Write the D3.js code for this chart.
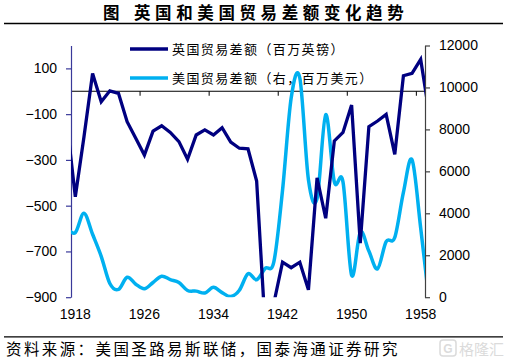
<!DOCTYPE html>
<html>
<head>
<meta charset="utf-8">
<script src="https://cdn.jsdelivr.net/npm/d3@7"></script>
<style>
  html, body { margin: 0; padding: 0; background: #fff; }
  svg { display: block; }
</style>
</head>
<body>
<script>
// ---- data ----
const years = d3.range(1917, 1960); // 1917..1959 (edge years are clipped by the plot area)
const ukBalance = [ // 英国贸易差额（百万英镑）
  -130, -461, -200, 78, -46, 2, -9, -133, -205, -279,
  -174, -151, -180, -220, -297, -191, -169, -191, -159, -222,
  -249, -252, -392, -1040, -925, -747, -771, -747, -868, -378,
  -555, -217, -180, -60, -664, -155, -130, -101, -276, 68,
  78, 139, -100
];
const usBalance = [ // 美国贸易差额（右，百万美元）
  3300, 3080, 4000, 3000, 1950, 650, 370, 950, 620, 400,
  700, 1000, 840, 700, 320, 290, 200, 470, 220, 30,
  330, 1120, 830, 1380, 1700, 5100, 9500, 10450, 5600, 4700,
  8700, 5500, 5500, 1050, 3100, 2200, 1350, 2650, 2850, 5000,
  6550, 3300, -300
];
const xTickLabels = [1918, 1926, 1934, 1942, 1950, 1958];
const leftTicks = [-900, -700, -500, -300, -100, 100];
const rightTicks = [0, 2000, 4000, 6000, 8000, 10000, 12000];
const seriesNames = ["英国贸易差额（百万英镑）", "美国贸易差额（右，百万美元）"];
const titleText = ["图", "英国和美国贸易差额变化趋势"];
const sourceText = "资料来源：美国圣路易斯联储，国泰海通证券研究";

// ---- layout ----
const W = 513, H = 363;
const L = 71, R = 425, T = 45.5, B = 297.2;
const navy = "#000080", sky = "#00B0F0";
const latin = "'Liberation Sans', Arial, sans-serif";
const cjk = "'Noto Sans CJK SC', sans-serif";

const svg = d3.select("body").append("svg").attr("width", W).attr("height", H);

// scales
const x = d3.scaleLinear().domain([1917.5, 1958.5]).range([L, R]);
const yL = d3.scaleLinear().domain([-900, 200]).range([B, T]);
const yR = d3.scaleLinear().domain([0, 12000]).range([B, T]);

// title
svg.append("text").attr("x", 103).attr("y", 19.3)
  .attr("font-family", cjk).attr("font-size", 16.5).attr("font-weight", "bold")
  .text(titleText[0]);
svg.append("text").attr("x", 134).attr("y", 19.3)
  .attr("font-family", cjk).attr("font-size", 16.5).attr("font-weight", "bold")
  .attr("letter-spacing", 4.6).text(titleText[1]);
svg.append("line").attr("x1", 4).attr("x2", 503).attr("y1", 23.5).attr("y2", 23.5)
  .attr("stroke", "#000").attr("stroke-width", 1.3);

// legend
const legY = [49, 78];
const legColor = [navy, sky];
seriesNames.forEach((n, i) => {
  svg.append("line").attr("x1", 130).attr("x2", 168).attr("y1", legY[i]).attr("y2", legY[i])
    .attr("stroke", legColor[i]).attr("stroke-width", 3.3);
  svg.append("text").attr("x", 172).attr("y", legY[i]).attr("dy", "0.36em")
    .attr("font-family", cjk).attr("font-size", 13).attr("letter-spacing", 1.4)
    .attr("fill", "#000").text(n);
});

// zero line (category axis) with ticks between categories
svg.append("line").attr("x1", L).attr("x2", R).attr("y1", yL(0)).attr("y2", yL(0))
  .attr("stroke", "#000").attr("stroke-width", 1);
const boundaryTicks = xTickLabels.slice(1).map(v => v - 0.5);
svg.append("g").selectAll("line").data(boundaryTicks).join("line")
  .attr("x1", d => x(d)).attr("x2", d => x(d))
  .attr("y1", yL(0)).attr("y2", yL(0) + 4.5)
  .attr("stroke", "#000").attr("stroke-width", 1);

// x labels at the bottom
svg.append("g").selectAll("text").data(xTickLabels).join("text")
  .attr("x", d => x(d)).attr("y", 314.5).attr("dy", "0.35em")
  .attr("text-anchor", "middle").attr("font-family", latin).attr("font-size", 14)
  .attr("fill", "#000").text(d => d);

// left axis
const gL = svg.append("g").attr("transform", `translate(${L},0)`)
  .call(d3.axisLeft(yL).tickValues(leftTicks).tickSize(5).tickSizeOuter(0).tickPadding(9).tickFormat(d3.format("d")));
gL.select(".domain").attr("stroke", "#3a3a9a").attr("stroke-width", 1.2);
gL.selectAll(".tick line").attr("stroke", "#3a3a9a").attr("stroke-width", 1.2);
gL.selectAll(".tick text").attr("font-family", latin).attr("font-size", 14).attr("fill", "#000");

// right axis
const gR = svg.append("g").attr("transform", `translate(${R},0)`)
  .call(d3.axisRight(yR).tickValues(rightTicks).tickSize(5).tickSizeOuter(0).tickPadding(9).tickFormat(d3.format("d")));
gR.select(".domain").attr("stroke", "#404040").attr("stroke-width", 1.2);
gR.selectAll(".tick line").attr("stroke", "#404040").attr("stroke-width", 1.2);
gR.selectAll(".tick text").attr("font-family", latin).attr("font-size", 14).attr("fill", "#000");

// clip
svg.append("clipPath").attr("id", "plot").append("rect")
  .attr("x", L).attr("y", T).attr("width", R - L).attr("height", B - T);

const gLines = svg.append("g").attr("clip-path", "url(#plot)");

// US series (smoothed, right axis)
const usLine = d3.line().x((d, i) => x(years[i])).y(d => yR(d)).curve(d3.curveCardinal.tension(0));
gLines.append("path").datum(usBalance).attr("d", usLine)
  .attr("fill", "none").attr("stroke", sky).attr("stroke-width", 3.5)
  .attr("stroke-linejoin", "round");

// UK series (straight, left axis)
const ukLine = d3.line().x((d, i) => x(years[i])).y(d => yL(d));
gLines.append("path").datum(ukBalance).attr("d", ukLine)
  .attr("fill", "none").attr("stroke", navy).attr("stroke-width", 3.3)
  .attr("stroke-linejoin", "miter");

// footer
svg.append("line").attr("x1", 4).attr("x2", 503).attr("y1", 336.8).attr("y2", 336.8)
  .attr("stroke", "#000").attr("stroke-width", 1.2);
svg.append("text").attr("x", 6).attr("y", 355)
  .attr("font-family", cjk).attr("font-size", 15.5).attr("letter-spacing", 2.4)
  .attr("fill", "#000").text(sourceText);

// watermark
const wm = svg.append("g").attr("opacity", 0.35);
wm.append("rect").attr("x", 440).attr("y", 340).attr("width", 16).attr("height", 16).attr("rx", 3)
  .attr("fill", "none").attr("stroke", "#999").attr("stroke-width", 1.5);
wm.append("text").attr("x", 448).attr("y", 353).attr("text-anchor", "middle")
  .attr("font-family", latin).attr("font-size", 12).attr("font-weight", "bold").attr("fill", "#999").text("G");
wm.append("text").attr("x", 459).attr("y", 355)
  .attr("font-family", cjk).attr("font-size", 15).attr("fill", "#999").text("格隆汇");
</script>
</body>
</html>
